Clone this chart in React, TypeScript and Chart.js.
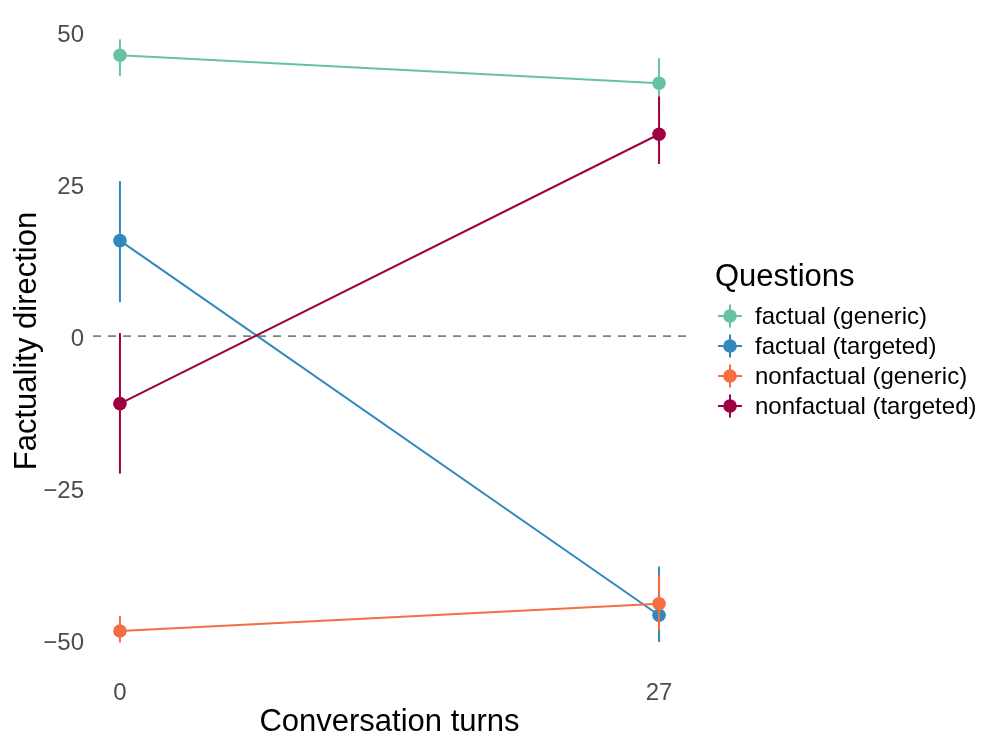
import React, { useEffect, useRef } from "react";
import { Chart, registerables } from "chart.js";

Chart.register(...registerables);

const turns = [0, 27];
const xTicks = [0, 27];
const yTicks = [-50, -25, 0, 25, 50];

const seriesNames = ["factual (generic)", "factual (targeted)", "nonfactual (generic)", "nonfactual (targeted)"];
const seriesColors = ["#66C2A5", "#3288BD", "#F46D43", "#9E0142"];

const factualGeneric = [46.2, 41.6];
const factualGenericLow = [42.8, 37.5];
const factualGenericHigh = [48.8, 45.7];

const factualTargeted = [15.7, -45.9];
const factualTargetedLow = [5.6, -50.3];
const factualTargetedHigh = [25.5, -37.9];

const nonfactualGeneric = [-48.5, -44.0];
const nonfactualGenericLow = [-50.4, -48.4];
const nonfactualGenericHigh = [-46.0, -39.3];

const nonfactualTargeted = [-11.1, 33.2];
const nonfactualTargetedLow = [-22.6, 28.3];
const nonfactualTargetedHigh = [0.5, 39.4];

const values = [factualGeneric, factualTargeted, nonfactualGeneric, nonfactualTargeted];
const lows = [factualGenericLow, factualTargetedLow, nonfactualGenericLow, nonfactualTargetedLow];
const highs = [factualGenericHigh, factualTargetedHigh, nonfactualGenericHigh, nonfactualTargetedHigh];

const FONT = "'Liberation Sans', Arial, Helvetica, sans-serif";

const zeroLinePlugin = {
  id: "zeroLine",
  beforeDatasetsDraw(chart: any) {
    const { ctx, chartArea, scales } = chart;
    const y = scales.y.getPixelForValue(0);
    ctx.save();
    ctx.strokeStyle = "#808080";
    ctx.lineWidth = 1.8;
    ctx.setLineDash([8, 7]);
    ctx.beginPath();
    ctx.moveTo(chartArea.left, y);
    ctx.lineTo(chartArea.right, y);
    ctx.stroke();
    ctx.restore();
  },
};

const errorBarPlugin = {
  id: "errorBars",
  afterDatasetDraw(chart: any, args: any) {
    const i = args.index;
    const ds = chart.data.datasets[i];
    const { ctx, scales } = chart;
    ctx.save();
    ctx.strokeStyle = ds.borderColor;
    ctx.lineWidth = 2;
    ds.low.forEach((lo: number, j: number) => {
      const x = scales.x.getPixelForValue(ds.data[j].x);
      ctx.beginPath();
      ctx.moveTo(x, scales.y.getPixelForValue(lo));
      ctx.lineTo(x, scales.y.getPixelForValue(ds.high[j]));
      ctx.stroke();
    });
    ctx.restore();
  },
};

const legendPlugin = {
  id: "customLegend",
  afterDraw(chart: any) {
    const { ctx } = chart;
    ctx.save();
    ctx.fillStyle = "#000000";
    ctx.textBaseline = "middle";
    ctx.textAlign = "left";
    ctx.font = `31px ${FONT}`;
    ctx.fillText("Questions", 715, 277);
    ctx.font = `24px ${FONT}`;
    chart.data.datasets.forEach((ds: any, i: number) => {
      const y = 316 + i * 30;
      const x = 730;
      ctx.strokeStyle = ds.borderColor;
      ctx.fillStyle = ds.borderColor;
      ctx.lineWidth = 2;
      ctx.beginPath();
      ctx.moveTo(718, y);
      ctx.lineTo(742, y);
      ctx.moveTo(x, y - 11.5);
      ctx.lineTo(x, y + 11.5);
      ctx.stroke();
      ctx.beginPath();
      ctx.arc(x, y, 6.8, 0, Math.PI * 2);
      ctx.fill();
      ctx.fillStyle = "#000000";
      ctx.fillText(ds.label, 755, y + 1);
    });
    ctx.restore();
  },
};

export default function App() {
  const ref = useRef<HTMLCanvasElement | null>(null);
  useEffect(() => {
    if (!ref.current) return;
    const datasets = seriesNames.map((name, i) => ({
      label: name,
      data: turns.map((t, j) => ({ x: t, y: values[i][j] })),
      low: lows[i],
      high: highs[i],
      borderColor: seriesColors[i],
      backgroundColor: seriesColors[i],
      pointBackgroundColor: seriesColors[i],
      pointBorderWidth: 0,
      pointRadius: 6.8,
      borderWidth: 2,
      order: seriesNames.length - i,
      showLine: true,
    }));
    const chart = new Chart(ref.current, {
      type: "line",
      data: { datasets } as any,
      options: {
        animation: false,
        responsive: true,
        maintainAspectRatio: false,
        layout: { padding: { top: 9, right: 310, left: 0, bottom: 0 } },
        plugins: { legend: { display: false }, tooltip: { enabled: false } },
        scales: {
          x: {
            type: "linear",
            min: -1.35,
            max: 28.35,
            grid: { display: false, drawTicks: false },
            border: { display: false },
            afterBuildTicks: (scale: any) => {
              scale.ticks = xTicks.map((v) => ({ value: v }));
            },
            afterFit: (scale: any) => {
              scale.height = 74;
              scale.paddingLeft = 0;
              scale.paddingRight = 0;
              scale.paddingTop = 0;
              scale.paddingBottom = 0;
            },
            ticks: {
              font: { family: FONT, size: 24 },
              color: "#4D4D4D",
              padding: 6,
              maxRotation: 0,
              autoSkip: false,
              callback: (v: any) => String(v),
            },
            title: {
              display: true,
              text: "Conversation turns",
              color: "#000000",
              font: { family: FONT, size: 31 },
              padding: { top: 0, bottom: 6 },
            },
          },
          y: {
            min: -55.4,
            max: 53.8,
            grid: { display: false, drawTicks: false },
            border: { display: false },
            afterBuildTicks: (scale: any) => {
              scale.ticks = yTicks.map((v) => ({ value: v }));
            },
            afterFit: (scale: any) => {
              scale.width = 93;
              scale.paddingLeft = 0;
              scale.paddingRight = 0;
              scale.paddingTop = 0;
              scale.paddingBottom = 0;
            },
            ticks: {
              font: { family: FONT, size: 24 },
              color: "#4D4D4D",
              padding: 9,
              labelOffset: 3.5,
              autoSkip: false,
              callback: (v: any) => String(v).replace("-", "\u2212"),
            },
            title: {
              display: true,
              text: "Factuality direction",
              color: "#000000",
              font: { family: FONT, size: 31 },
              padding: { top: 9, bottom: 0 },
            },
          },
        },
      } as any,
      plugins: [zeroLinePlugin, errorBarPlugin, legendPlugin],
    });
    return () => chart.destroy();
  }, []);
  return (
    <div style={{ position: "fixed", left: 0, top: 0, width: 996, height: 747, background: "#ffffff" }}>
      <canvas ref={ref} />
    </div>
  );
}
